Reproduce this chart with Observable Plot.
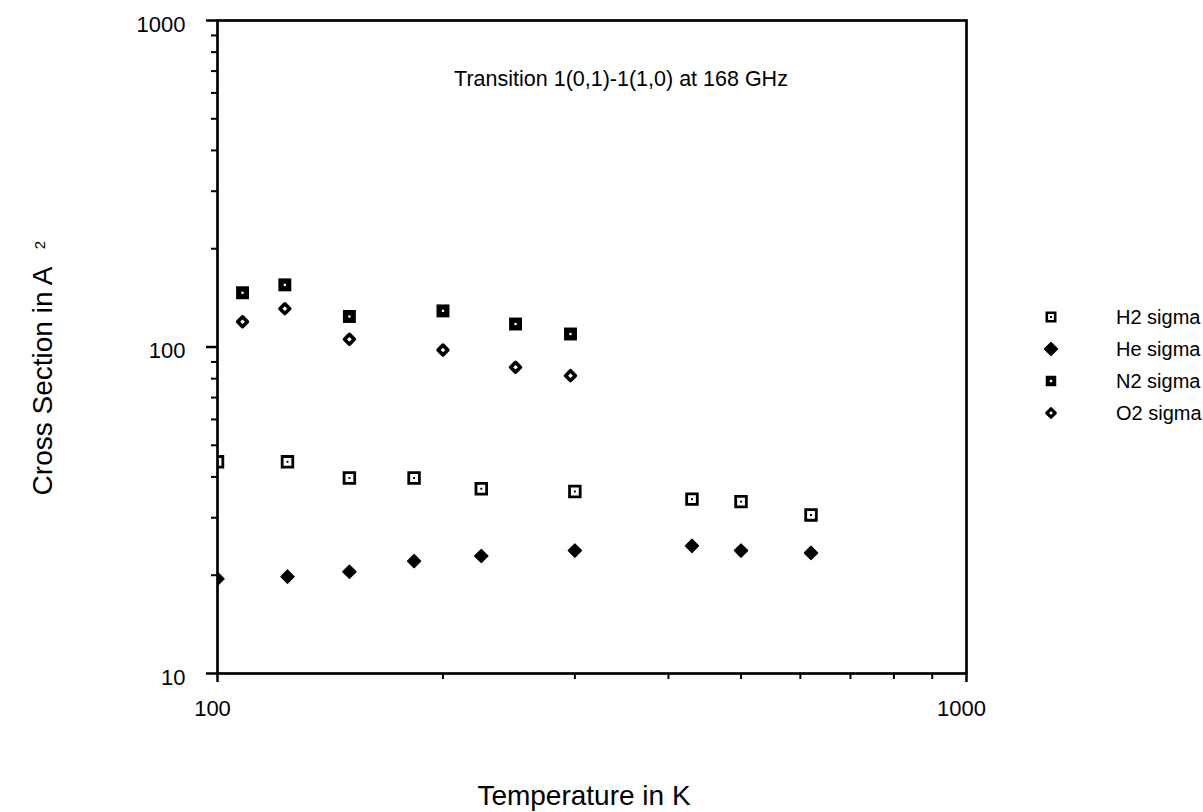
<!DOCTYPE html>
<html>
<head>
<meta charset="utf-8">
<script src="https://cdn.jsdelivr.net/npm/d3@7"></script>
<script src="https://cdn.jsdelivr.net/npm/@observablehq/plot@0.6"></script>
<style>
  html, body { margin: 0; padding: 0; background: #fff; }
  #wrap { position: relative; width: 1203px; height: 812px; font-family: "Liberation Sans", Arial, sans-serif; overflow: hidden; }
  #legend { position: absolute; left: 1040px; top: 301px; font-size: 20px; color: #000; white-space: nowrap; width: 163px; }
  #legend .row { display: flex; align-items: center; height: 32px; white-space: nowrap; }
  #legend svg { width: 22px; height: 22px; margin-right: 54px; flex: none; }
</style>
</head>
<body>
<div id="wrap"><div id="chart"></div><div id="legend"></div></div>
<script>
// ---- data ----
const tempsH2He = [100, 124, 150, 183, 225, 300, 430, 500, 620];
const sigmaH2 = [44.5, 44.5, 39.7, 39.7, 36.8, 36.1, 34.2, 33.6, 30.6];
const sigmaHe = [19.5, 19.8, 20.5, 22.1, 22.9, 23.8, 24.6, 23.8, 23.4];
const tempsN2O2 = [108, 123, 150, 200, 250, 296];
const sigmaN2 = [146.6, 155, 124, 129, 117.6, 109.6];
const sigmaO2 = [119.5, 131, 105.6, 97.9, 86.7, 81.7];

const seriesNames = ["H2 sigma", "He sigma", "N2 sigma", "O2 sigma"];
const xMajor = [100, 1000];
const xMinor = [200, 300, 400, 500, 600, 700, 800, 900];
const yMajor = [10, 100, 1000];
const yMinor = [20, 30, 40, 50, 60, 70, 80, 90, 200, 300, 400, 500, 600, 700, 800, 900];
const titleText = "Transition 1(0,1)-1(1,0) at 168 GHz";
const xLabel = "Temperature in K";
const yLabel = "Cross Section in A";
const yLabelSup = "2";

const H2 = tempsH2He.map((t, i) => ({t, v: sigmaH2[i]}));
const He = tempsH2He.map((t, i) => ({t, v: sigmaHe[i]}));
const N2 = tempsN2O2.map((t, i) => ({t, v: sigmaN2[i]}));
const O2 = tempsN2O2.map((t, i) => ({t, v: sigmaO2[i]}));

const font = "'Liberation Sans', Arial, sans-serif";

const chart = Plot.plot({
  width: 1203,
  height: 812,
  marginLeft: 217,
  marginRight: 237,
  marginTop: 20,
  marginBottom: 139,
  style: {fontFamily: font, background: "white", color: "black", overflow: "visible"},
  x: {type: "log", domain: [100, 1000]},
  y: {type: "log", domain: [10, 1000]},
  marks: [
    // data
    Plot.dot(H2, {x: "t", y: "v", symbol: "square", r: 6, fill: "white", stroke: "black", strokeWidth: 2.8, clip: true}),
    Plot.dot(H2, {x: "t", y: "v", symbol: "square", r: 1.1, fill: "black", clip: true}),
    Plot.dot(He, {x: "t", y: "v", symbol: "diamond2", r: 6, fill: "black", stroke: "black", strokeWidth: 1.2, strokeLinejoin: "round", clip: true}),
    Plot.dot(N2, {x: "t", y: "v", symbol: "square", r: 7.3, fill: "black", clip: true}),
    Plot.dot(N2, {x: "t", y: "v", symbol: "square", r: 1.3, fill: "white", clip: true}),
    Plot.dot(O2, {x: "t", y: "v", symbol: "diamond2", r: 4.4, fill: "white", stroke: "black", strokeWidth: 3.6, strokeLinejoin: "round", clip: true}),
    // axes ticks
    Plot.axisY({ticks: yMajor, tickSize: 11, fill: "none", label: null, strokeWidth: 2.5}),
    Plot.axisY({ticks: yMinor, tickSize: 6, fill: "none", label: null, strokeWidth: 2}),
    Plot.axisX({ticks: xMajor, tickSize: 9, fill: "none", label: null, strokeWidth: 2.5}),
    Plot.axisX({ticks: xMinor, tickSize: 6, fill: "none", label: null, strokeWidth: 2}),
    // axes labels
    Plot.axisY({ticks: yMajor, tickSize: 0, tickPadding: 32, fontSize: 22, label: null, dy: 4, tickFormat: "d"}),
    Plot.axisX({ticks: xMajor, tickSize: 0, tickPadding: 27, fontSize: 22, label: null, dx: -5, tickFormat: "d"}),
    Plot.frame({stroke: "black", strokeWidth: 2.7}),
    // texts
    Plot.text([titleText], {text: d => d, frameAnchor: "top", lineAnchor: "middle", textAnchor: "middle", dx: 29, dy: 59, fontSize: 21.5}),
    Plot.text([xLabel], {text: d => d, frameAnchor: "bottom", lineAnchor: "middle", textAnchor: "middle", dx: -8, dy: 123, fontSize: 28}),
    Plot.text([yLabel], {text: d => d, frameAnchor: "left", lineAnchor: "middle", textAnchor: "middle", rotate: -90, dx: -174, dy: 34, fontSize: 28}),
    Plot.text([yLabelSup], {text: d => d, frameAnchor: "left", lineAnchor: "middle", textAnchor: "middle", rotate: -90, dx: -177, dy: -102, fontSize: 15})
  ]
});
document.getElementById("chart").appendChild(chart);

// legend
const symPaths = {
  square: (s) => d3.symbol(d3.symbolSquare, s)(),
  diamond: (s) => d3.symbol(d3.symbolDiamond2, s)()
};
const legendSpec = [
  {name: seriesNames[0], html: `<path d="${symPaths.square(70)}" fill="white" stroke="black" stroke-width="2.6"/><rect x="-1" y="-1" width="2" height="2" fill="black"/>`},
  {name: seriesNames[1], html: `<path d="${symPaths.diamond(110)}" fill="black" stroke="black" stroke-width="1.2" stroke-linejoin="round"/>`},
  {name: seriesNames[2], html: `<path d="${symPaths.square(110)}" fill="black"/><rect x="-1.2" y="-1.2" width="2.4" height="2.4" fill="white"/>`},
  {name: seriesNames[3], html: `<path d="${symPaths.diamond(45)}" fill="white" stroke="black" stroke-width="3.2" stroke-linejoin="round"/>`}
];
const leg = document.getElementById("legend");
for (const e of legendSpec) {
  const row = document.createElement("div");
  row.className = "row";
  row.innerHTML = `<svg viewBox="-11 -11 22 22">${e.html}</svg><span>${e.name}</span>`;
  leg.appendChild(row);
}
</script>
</body>
</html>
